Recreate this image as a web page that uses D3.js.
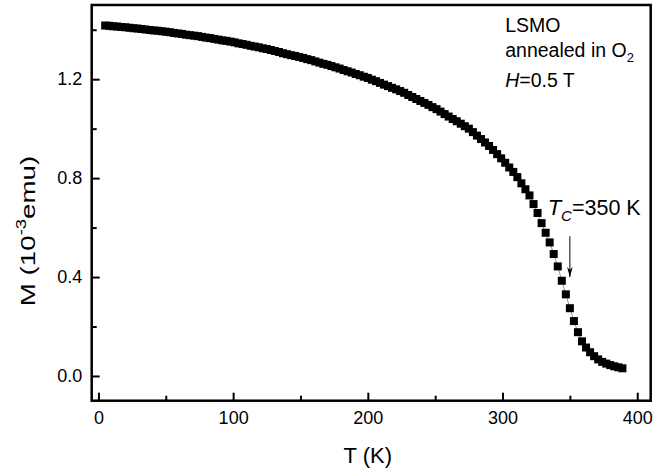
<!DOCTYPE html>
<html lang="en">
<head>
<meta charset="UTF-8">
<title>LSMO M(T)</title>
<script src="https://d3js.org/d3.v7.min.js"></script>
<style>
  body { margin: 0; background: #fff; font-family: "Liberation Sans", Arial, sans-serif; }
  .axis text { font-size: 18px; fill: #000; font-family: "Liberation Sans", Arial, sans-serif; }
  .axis line { stroke: #000; stroke-width: 2px; }
  .note { font-size: 19.5px; fill: #000; }
</style>
</head>
<body>
<svg width="665" height="472"></svg>
<script>
// temperature (K) and magnetization (10^-3 emu)
const temps = [5, 8, 11, 14, 17, 20, 23, 26, 29, 32, 35, 38, 41, 44, 47, 50, 53, 56, 59, 62,
  65, 68, 71, 74, 77, 80, 83, 86, 89, 92, 95, 98, 101, 104, 107, 110, 113, 116, 119, 122,
  125, 128, 131, 134, 137, 140, 143, 146, 149, 152, 155, 158, 161, 164, 167, 170, 173, 176, 179, 182,
  185, 188, 191, 194, 197, 200, 203, 206, 209, 212, 215, 218, 221, 224, 227, 230, 233, 236, 239, 242,
  245, 248, 251, 254, 257, 260, 263, 266, 269, 272, 275, 278, 281, 284, 287, 290, 293, 296, 299, 302,
  305, 308, 311, 314, 317, 320, 323, 326, 329, 332, 335, 338, 341, 344, 347, 350, 353, 356, 359, 362,
  365, 368, 371, 374, 377, 380, 383, 386, 389];
const moments = [1.417, 1.416, 1.414, 1.413, 1.411, 1.410, 1.408, 1.406, 1.405, 1.403, 1.401, 1.399, 1.397, 1.396, 1.394, 1.392, 1.390, 1.387, 1.385, 1.383,
  1.380, 1.378, 1.376, 1.374, 1.371, 1.368, 1.366, 1.363, 1.360, 1.357, 1.355, 1.352, 1.349, 1.345, 1.342, 1.339, 1.335, 1.332, 1.329, 1.325,
  1.322, 1.318, 1.314, 1.310, 1.305, 1.301, 1.297, 1.294, 1.290, 1.286, 1.281, 1.277, 1.272, 1.267, 1.262, 1.258, 1.253, 1.248, 1.243, 1.237,
  1.232, 1.227, 1.221, 1.216, 1.210, 1.205, 1.198, 1.192, 1.185, 1.178, 1.172, 1.165, 1.159, 1.152, 1.145, 1.136, 1.128, 1.120, 1.112, 1.104,
  1.096, 1.087, 1.079, 1.069, 1.059, 1.049, 1.039, 1.030, 1.020, 1.010, 1.000, 0.986, 0.972, 0.958, 0.944, 0.930, 0.914, 0.897, 0.880, 0.862,
  0.843, 0.825, 0.804, 0.779, 0.755, 0.730, 0.695, 0.659, 0.618, 0.579, 0.540, 0.493, 0.443, 0.385, 0.330, 0.274, 0.222, 0.177, 0.140, 0.115,
  0.096, 0.080, 0.067, 0.057, 0.050, 0.044, 0.039, 0.035, 0.031];

const xTicks = [0, 100, 200, 300, 400];
const xMinorTicks = [50, 150, 250, 350];
const yTicks = [0.0, 0.4, 0.8, 1.2];
const yMinorTicks = [0.2, 0.6, 1.0, 1.4];

const tcValue = 350;          // arrow position (K)
const tcArrow = [0.565, 0.40]; // arrow start / end (M units)

const svg = d3.select("svg");
const margin = {top: 5, right: 14.3, bottom: 71.3, left: 91.7};
const width = 665 - margin.left - margin.right,
      height = 472 - margin.top - margin.bottom;

const g = svg.append("g").attr("transform", `translate(${margin.left},${margin.top})`);

const x = d3.scaleLinear().domain([-5, 410]).range([0, width]);
const y = d3.scaleLinear().domain([-0.1, 1.5]).range([height, 0]);

const data = temps.map((t, i) => ({t: t, m: moments[i]}));

// axes (ticks inward)
const xAxis = g.append("g").attr("class", "axis")
  .attr("transform", `translate(0,${height})`)
  .call(d3.axisBottom(x).tickValues(xTicks).tickFormat(d3.format("d"))
    .tickSizeInner(-8).tickSizeOuter(0).tickPadding(11));
xAxis.select(".domain").remove();

g.append("g").attr("class", "axis")
  .attr("transform", `translate(0,${height})`)
  .call(d3.axisBottom(x).tickValues(xMinorTicks).tickFormat("").tickSizeInner(-5).tickSizeOuter(0))
  .select(".domain").remove();

const yAxis = g.append("g").attr("class", "axis")
  .call(d3.axisLeft(y).tickValues(yTicks).tickFormat(d3.format(".1f"))
    .tickSizeInner(-8).tickSizeOuter(0).tickPadding(9.5));
yAxis.select(".domain").remove();

g.append("g").attr("class", "axis")
  .call(d3.axisLeft(y).tickValues(yMinorTicks).tickFormat("").tickSizeInner(-5).tickSizeOuter(0))
  .select(".domain").remove();

// frame
g.append("rect")
  .attr("width", width).attr("height", height)
  .attr("fill", "none").attr("stroke", "#000").attr("stroke-width", 2.5);

// thin connecting line
g.append("path")
  .datum(data)
  .attr("fill", "none")
  .attr("stroke", "#666")
  .attr("stroke-width", 0.7)
  .attr("d", d3.line().x(d => x(d.t)).y(d => y(d.m)));

// square markers
const sz = 8;
g.selectAll("rect.pt")
  .data(data)
  .enter().append("rect")
    .attr("class", "pt")
    .attr("x", d => x(d.t) - sz / 2)
    .attr("y", d => y(d.m) - sz / 2)
    .attr("width", sz).attr("height", sz)
    .attr("fill", "#000");

// Tc arrow
svg.append("defs").append("marker")
  .attr("id", "head")
  .attr("viewBox", "0 0 10 10")
  .attr("refX", 10).attr("refY", 5)
  .attr("markerWidth", 10).attr("markerHeight", 10)
  .attr("markerUnits", "userSpaceOnUse")
  .attr("orient", "auto")
  .append("path").attr("d", "M0,2.2 L10,5 L0,7.8 L3,5 Z").attr("fill", "#000");

g.append("line")
  .attr("x1", x(tcValue)).attr("x2", x(tcValue))
  .attr("y1", y(tcArrow[0])).attr("y2", y(tcArrow[1]))
  .attr("stroke", "#000").attr("stroke-width", 1)
  .attr("marker-end", "url(#head)");

const tcText = g.append("text").attr("class", "note")
  .attr("x", x(333.5)).attr("y", y(0.65));
tcText.append("tspan").attr("font-style", "italic").attr("font-size", 22).text("T");
tcText.append("tspan").attr("font-style", "italic").attr("font-size", 15).attr("dy", 6).text("C");
tcText.append("tspan").attr("dy", -6).attr("font-size", 21.5).text("=350 K");

// sample notes
const notes = g.append("g").attr("class", "note");
notes.append("text").attr("x", x(302)).attr("y", y(1.391)).text("LSMO");
const ann = notes.append("text").attr("x", x(302)).attr("y", y(1.290));
ann.append("tspan").text("annealed in O");
ann.append("tspan").attr("font-size", 13).attr("dy", 5).text("2");
const hf = notes.append("text").attr("x", x(302)).attr("y", y(1.168));
hf.append("tspan").attr("font-style", "italic").text("H");
hf.append("tspan").text("=0.5 T");

// axis titles
svg.append("text")
  .attr("x", margin.left + x(200)).attr("y", 463)
  .attr("text-anchor", "middle")
  .attr("font-size", 22)
  .text("T (K)");

const yl = svg.append("text")
  .attr("transform", `translate(35,${231}) rotate(-90) scale(1.32,1)`)
  .attr("text-anchor", "middle")
  .attr("font-size", 21);
yl.append("tspan").text("M (10");
yl.append("tspan").attr("font-size", 14).attr("dy", -9).text("-3");
yl.append("tspan").attr("dy", 9).text("emu)");
</script>
</body>
</html>
